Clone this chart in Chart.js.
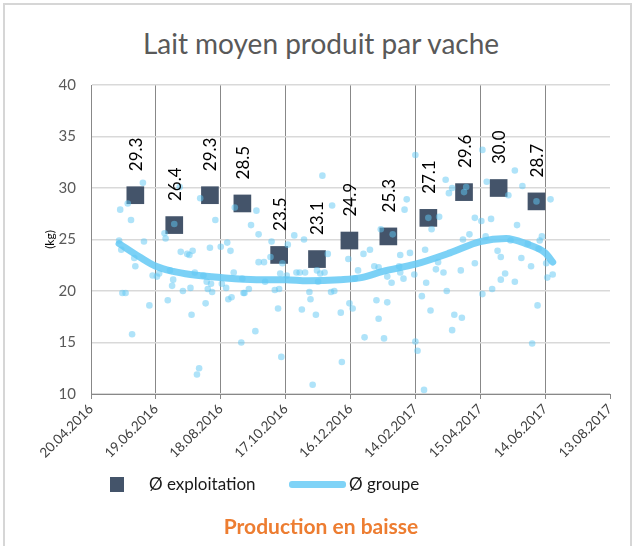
<!DOCTYPE html>
<html lang="fr">
<head>
<meta charset="utf-8">
<script src="https://cdn.jsdelivr.net/npm/chart.js@4"></script>
<style>
  body { margin: 0; width: 642px; height: 546px; overflow: hidden; background: #fff; font-family: Lato, sans-serif; }
  #frame { position: absolute; left: 3px; top: 3px; width: 629px; height: 560px; border: 2px solid #d6d6d6; box-sizing: border-box; }
  #wrap { position: absolute; left: 0; top: 0; width: 642px; height: 546px; }
  #title { position: absolute; left: 0; width: 642px; top: 27px; text-align: center; font-size: 28px; line-height: 1.2; color: #595959; }
  .legend { position: absolute; top: 473px; font-size: 17px; color: #1a1a1a; line-height: 22px; }
  .sq { position: absolute; left: 110px; top: 477px; width: 14px; height: 15px; background: #44546a; }
  .ln { position: absolute; left: 289px; top: 481px; width: 57px; height: 7px; border-radius: 3px; background: #7fd3f7; }
  #footer { position: absolute; left: 0; width: 642px; top: 513px; text-align: center; font-weight: bold; font-size: 21px; color: #ed7d31; }
</style>
</head>
<body>
<div id="frame"></div>
<div id="title">Lait moyen produit par vache</div>
<div id="wrap"><canvas id="chart" width="642" height="546"></canvas></div>
<div class="sq"></div>
<div class="legend" style="left:149px">Ø exploitation</div>
<div class="ln"></div>
<div class="legend" style="left:349px">Ø groupe</div>
<div id="footer">Production en baisse</div>
<script>
// x values are days counted from the axis start date
const startDate = Date.UTC(2016, 3, 20);
const dayTicks = [0, 60, 120, 180, 240, 300, 360, 420, 480];

// Ø exploitation (monthly farm average)
const exploitDays = [41, 77, 110, 140, 174, 209, 239, 275, 312, 345, 377, 412];
const exploitKg = [29.3, 26.4, 29.3, 28.5, 23.5, 23.1, 24.9, 25.3, 27.1, 29.6, 30.0, 28.7];

// Ø groupe trend curve
const trendDays = [26, 45, 60, 76, 92, 120, 153, 180, 200, 230, 250, 270, 300, 332, 360, 384, 402, 420, 427];
const trendKg = [24.6, 23.3, 22.4, 21.9, 21.6, 21.3, 21.1, 21.1, 21.0, 21.1, 21.3, 21.9, 22.6, 23.7, 24.8, 25.1, 24.6, 23.7, 22.8];

// individual group farms [day, kg]
const groupSamples = [
  [48,30.5],[27,27.9],[34,28.5],[37,26.9],[77,26.5],[82,30.1],[101,29.0],[115,26.9],[133,28.1],[153,27.8],
  [148,26.4],[214,31.2],[223,28.3],[300,33.2],[292,28.9],[290,27.9],[268,26.0],[328,30.8],[331,29.5],[334,30.0],
  [345,29.6],[347,30.1],[312,27.1],[322,27.2],[315,26.0],[362,33.7],[366,30.6],[386,29.3],[392,31.7],[399,30.2],
  [355,27.1],[361,26.8],[370,27.0],[394,26.4],[412,28.7],[425,28.9],[26,24.9],[28,24.0],[29,19.8],[32,19.8],
  [38,15.8],[40,23.2],[41,22.4],[49,24.8],[54,18.6],[57,21.5],[61,21.4],[63,21.7],[68,25.6],[69,25.1],
  [71,19.1],[73,22.0],[75,20.5],[76,21.1],[83,23.8],[85,20.0],[89,23.6],[91,23.5],[94,23.9],[92,20.3],
  [93,17.7],[96,21.8],[98,11.9],[100,12.5],[104,21.5],[106,18.8],[107,20.9],[108,20.2],[110,24.2],[111,20.7],
  [112,19.9],[120,24.3],[121,20.7],[125,20.3],[126,24.7],[129,23.9],[127,19.2],[130,19.4],[132,21.8],[139,15.0],
  [140,21.2],[141,19.8],[142,19.8],[146,20.2],[152,16.1],[155,25.5],[155,22.8],[160,22.8],[161,20.9],[166,23.3],
  [167,24.8],[170,20.1],[173,18.3],[174,20.2],[175,21.7],[176,13.6],[177,22.7],[181,21.5],[182,24.5],[188,25.4],
  [190,21.8],[197,25.0],[193,21.8],[198,21.8],[202,19.9],[203,19.2],[195,18.2],[205,10.9],[208,17.7],[209,22.0],
  [210,20.9],[212,21.7],[216,21.8],[219,23.6],[222,19.9],[225,20.0],[231,17.9],[232,13.1],[238,23.1],[239,18.8],
  [242,18.3],[244,21.2],[247,22.0],[252,23.6],[253,15.5],[258,24.0],[262,22.4],[264,19.1],[266,17.3],[266,22.3],
  [271,15.4],[274,21.4],[274,18.9],[278,20.8],[279,25.5],[285,22.4],[286,23.5],[286,21.8],[289,21.2],[295,23.7],
  [299,21.6],[300,15.1],[302,14.2],[306,19.5],[308,10.4],[309,24.0],[310,20.8],[314,18.1],[319,22.1],[321,22.8],
  [326,21.8],[329,20.0],[334,16.2],[336,17.7],[342,22.0],[343,17.4],[344,25.0],[350,25.5],[355,22.7],[362,19.7],
  [365,25.3],[371,20.2],[376,23.9],[379,23.3],[379,21.1],[383,21.7],[388,24.9],[392,20.9],[398,23.2],[404,24.6],
  [407,22.4],[408,14.9],[413,18.6],[414,24.1],[415,24.9],[417,25.3],[421,22.7],[422,21.3],[427,21.6]
];

const yTicks = [10, 15, 20, 25, 30, 35, 40];

function fmtDate(day) {
  const d = new Date(startDate + day * 86400000);
  const p = n => String(n).padStart(2, "0");
  return p(d.getUTCDate()) + "." + p(d.getUTCMonth() + 1) + "." + d.getUTCFullYear();
}

// rotated value labels above the squares
const valueLabels = {
  id: "valueLabels",
  afterDatasetsDraw(chart) {
    const meta = chart.getDatasetMeta(1);
    const ctx = chart.ctx;
    ctx.save();
    ctx.font = "17px Lato";
    ctx.fillStyle = "#000";
    ctx.textAlign = "left";
    ctx.textBaseline = "middle";
    meta.data.forEach((el, i) => {
      ctx.save();
      ctx.translate(el.x + 1, el.y - 24);
      ctx.rotate(-Math.PI / 2);
      ctx.fillText(exploitKg[i].toFixed(1), 0, 0);
      ctx.restore();
    });
    ctx.restore();
  }
};

new Chart(document.getElementById("chart"), {
  type: "scatter",
  data: {
    datasets: [
      {
        label: "groupe points",
        data: groupSamples.map(s => ({ x: s[0], y: s[1] })),
        backgroundColor: "rgba(95, 199, 243, 0.5)",
        borderWidth: 0,
        pointRadius: 3.3,
        order: 0
      },
      {
        label: "Ø exploitation",
        data: exploitDays.map((d, i) => ({ x: d, y: exploitKg[i] })),
        backgroundColor: "#44546a",
        borderColor: "#44546a",
        pointStyle: "rect",
        pointRadius: 12.5,
        borderWidth: 0,
        order: 1
      },
      {
        label: "Ø groupe",
        type: "line",
        data: trendDays.map((d, i) => ({ x: d, y: trendKg[i] })),
        borderColor: "rgba(100, 201, 244, 0.85)",
        borderWidth: 7,
        borderCapStyle: "round",
        pointRadius: 0,
        cubicInterpolationMode: "monotone",
        fill: false,
        order: 2
      }
    ]
  },
  options: {
    responsive: false,
    animation: false,
    layout: { padding: { left: 0, right: 32, top: 85, bottom: 0 } },
    plugins: {
      legend: { display: false },
      tooltip: { enabled: false }
    },
    scales: {
      x: {
        type: "linear",
        min: 0,
        max: 480,
        afterFit(scale) { scale.height = 152; },
        afterBuildTicks(scale) { scale.ticks = dayTicks.map(v => ({ value: v })); },
        ticks: {
          color: "#404040",
          font: { family: "Lato", size: 13.5 },
          minRotation: 45,
          maxRotation: 45,
          padding: 2,
          callback: v => fmtDate(v)
        },
        grid: {
          color: ctx => (ctx.index === dayTicks.length - 1 ? "rgba(0,0,0,0)" : "#888888"),
          tickColor: "#888888",
          tickLength: 5,
          lineWidth: 1
        },
        border: { color: "#888888", width: 1 }
      },
      y: {
        min: 10,
        max: 40,
        afterFit(scale) { scale.width = 91; },
        afterBuildTicks(scale) { scale.ticks = yTicks.map(v => ({ value: v })); },
        ticks: {
          color: "#595959",
          font: { family: "Lato", size: 15 },
          padding: 15
        },
        grid: { color: "#d9d9d9", lineWidth: 1.5, drawTicks: false },
        border: { color: "#888888", width: 1 },
        title: {
          display: true,
          text: "(kg)",
          color: "#000",
          font: { family: "Lato", size: 12 },
          padding: { top: 43, bottom: 0 }
        }
      }
    }
  },
  plugins: [valueLabels]
});
</script>
</body>
</html>
